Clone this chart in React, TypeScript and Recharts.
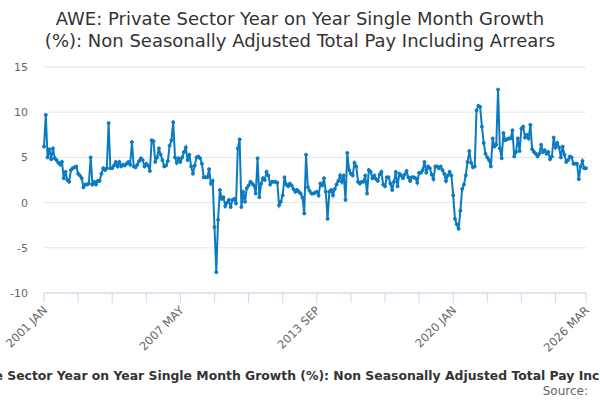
import React from 'react'
import { LineChart, Line, XAxis, YAxis, CartesianGrid } from 'recharts'

const TITLE = 'AWE: Private Sector Year on Year Single Month Growth (%): Non Seasonally Adjusted Total Pay Including Arrears'
const TITLE_LINES = [
    'AWE: Private Sector Year on Year Single Month Growth',
    '(%): Non Seasonally Adjusted Total Pay Including Arrears',
]
const MONTHS = ['JAN', 'FEB', 'MAR', 'APR', 'MAY', 'JUN', 'JUL', 'AUG', 'SEP', 'OCT', 'NOV', 'DEC']
const START_YEAR = 2001

// monthly values, 2001 JAN .. 2026 MAR
const growth = [
    6.2, 9.7, 5.0, 5.9, 4.8, 6.0, 4.9, 4.7, 4.4, 4.2,
    4.5, 2.7, 3.4, 2.5, 2.3, 3.6, 3.8, 3.9, 4.0, 3.2,
    3.0, 2.7, 1.7, 2.0, 2.0, 2.1, 5.0, 2.0, 2.3, 2.0,
    2.4, 2.4, 3.2, 3.8, 3.6, 3.8, 8.8, 3.8, 3.8, 4.1,
    4.5, 4.0, 4.5, 4.0, 4.2, 4.1, 4.3, 4.5, 4.2, 6.7,
    4.0, 3.9, 4.2, 4.6, 4.9, 4.7, 4.0, 4.3, 4.1, 3.5,
    6.9, 6.8, 4.5, 5.0, 6.0, 5.3, 4.7, 4.0, 4.1, 4.6,
    6.3, 6.9, 8.9, 5.0, 4.4, 4.9, 4.5, 5.0, 5.6, 6.1,
    4.7, 5.3, 4.0, 3.2, 4.1, 5.0, 5.1, 4.9, 4.3, 2.8,
    2.8, 2.8, 3.7, 2.1, 2.4, -2.7, -7.7, -1.9, 1.4, 0.4,
    0.6, -0.4, 0.0, 0.3, -0.5, 0.3, 0.4, -0.1, 6.0, 7.0,
    -0.5, 1.2, 0.1, 1.6, 1.9, 2.3, 2.1, 1.9, 1.0, 4.9,
    0.6, 2.1, 2.7, 2.5, 3.4, 3.0, 2.0, 2.3, 2.3, 2.3,
    2.2, -0.3, 0.1, 0.8, 2.8, 2.0, 1.8, 2.1, 1.9, 1.5,
    1.2, 1.4, 1.2, 1.0, 0.6, -1.2, 5.3, 1.7, 1.3, 1.0,
    1.0, 1.1, 1.2, 0.8, 2.1, 1.9, 2.7, 1.2, -1.8, 1.2,
    1.4, 0.8, 1.5, 2.0, 2.4, 3.0, 2.3, 3.0, 0.3, 5.5,
    3.6, 3.2, 3.0, 4.4, 4.0, 2.3, 2.1, 2.3, 2.3, 3.0,
    1.0, 3.6, 3.4, 2.7, 3.0, 2.6, 2.4, 3.1, 3.4, 2.0,
    1.8, 2.8, 2.8, 2.1, 1.4, 2.3, 3.4, 1.8, 3.2, 3.0,
    2.7, 3.1, 3.5, 2.8, 2.4, 2.8, 2.8, 2.7, 2.2, 3.3,
    3.3, 3.6, 4.5, 3.3, 4.0, 3.8, 3.1, 2.6, 4.0, 4.0,
    3.8, 4.0, 3.6, 3.2, 2.4, 3.0, 3.4, 3.0, 0.8, -1.8,
    -2.4, -2.9, -0.9, 1.5, 2.0, 3.0, 4.5, 5.7, 4.4, 3.9,
    4.0, 10.2, 10.7, 10.6, 8.4, 6.6, 5.4, 5.0, 4.7, 4.0,
    7.1, 6.2, 6.4, 12.5, 6.0, 4.9, 7.7, 6.9, 7.0, 7.1,
    7.1, 8.0, 5.1, 5.6, 7.1, 5.7, 8.2, 8.4, 7.2, 7.5,
    7.1, 8.6, 5.9, 5.6, 5.4, 5.1, 5.4, 6.4, 5.6, 5.8,
    5.4, 5.6, 4.8, 5.1, 7.2, 6.1, 6.6, 6.1, 5.0, 6.2,
    5.3, 4.5, 4.7, 5.1, 5.0, 4.3, 4.3, 4.3, 2.6, 4.0,
    4.6, 3.8, 3.8,
]

const months = growth.map((_, i) => `${START_YEAR + Math.floor(i / 12)} ${MONTHS[i % 12]}`)
const labelled = ['2001 JAN', '2007 MAY', '2013 SEP', '2020 JAN', '2026 MAR']
const tickMonths = months.filter((_, i) => i % 19 === 0).concat(months[months.length - 1])
const yTicks = [-10, -5, 0, 5, 10, 15]

const data = months.map((m, i) => ({ month: m, value: growth[i] }))

const FONT = '"DejaVu Sans", sans-serif'
const BLUE = '#0b7bc1'

function MonthTick(props: any) {
    const { x, y, payload } = props
    if (!labelled.includes(payload.value)) return null
    return (
        <text x={x + 4} y={y + 6} transform={`rotate(-45 ${x + 4} ${y + 6})`}
              textAnchor="end" fontSize={11.5} fill="#666" fontFamily={FONT}>
            {payload.value}
        </text>
    )
}

export default function App() {
    return (
        <div style={{ position: 'absolute', left: 0, top: 0, width: 600, height: 400, background: '#fff' }}>
            <LineChart width={600} height={400} data={data}
                       margin={{ top: 67, right: 14, bottom: 0, left: 0 }}>
                <CartesianGrid vertical={false} stroke="#e6e6e6"/>
                <XAxis dataKey="month" ticks={tickMonths} interval={0} tick={<MonthTick/>}
                       tickSize={10} height={107} stroke="#ccd6eb" tickLine={{ stroke: '#ccd6eb' }}/>
                <YAxis domain={[-10, 15]} ticks={yTicks} width={44} axisLine={false} tickLine={false}
                       tickMargin={10} tick={{ fontSize: 11, fill: '#666', fontFamily: FONT }}/>
                <Line type="linear" dataKey="value" stroke={BLUE} strokeWidth={2}
                      dot={{ r: 1.5, fill: BLUE, stroke: BLUE, strokeWidth: 1 }} isAnimationActive={false}/>
            </LineChart>
            <svg width={600} height={400} style={{ position: 'absolute', left: 0, top: 0, pointerEvents: 'none' }}>
                {TITLE_LINES.map((t, i) => (
                    <text key={i} x={300} y={25 + i * 22} textAnchor="middle" fontSize={18}
                          fill="#333" fontFamily={FONT}>{t}</text>
                ))}
                <text x={306} y={380} textAnchor="middle" fontSize={12.4} fontWeight="bold"
                      fill="#333" fontFamily={FONT}>{TITLE}</text>
                <text x={588} y={395} textAnchor="end" fontSize={12} fill="#666" fontFamily={FONT}>Source:</text>
            </svg>
        </div>
    )
}
